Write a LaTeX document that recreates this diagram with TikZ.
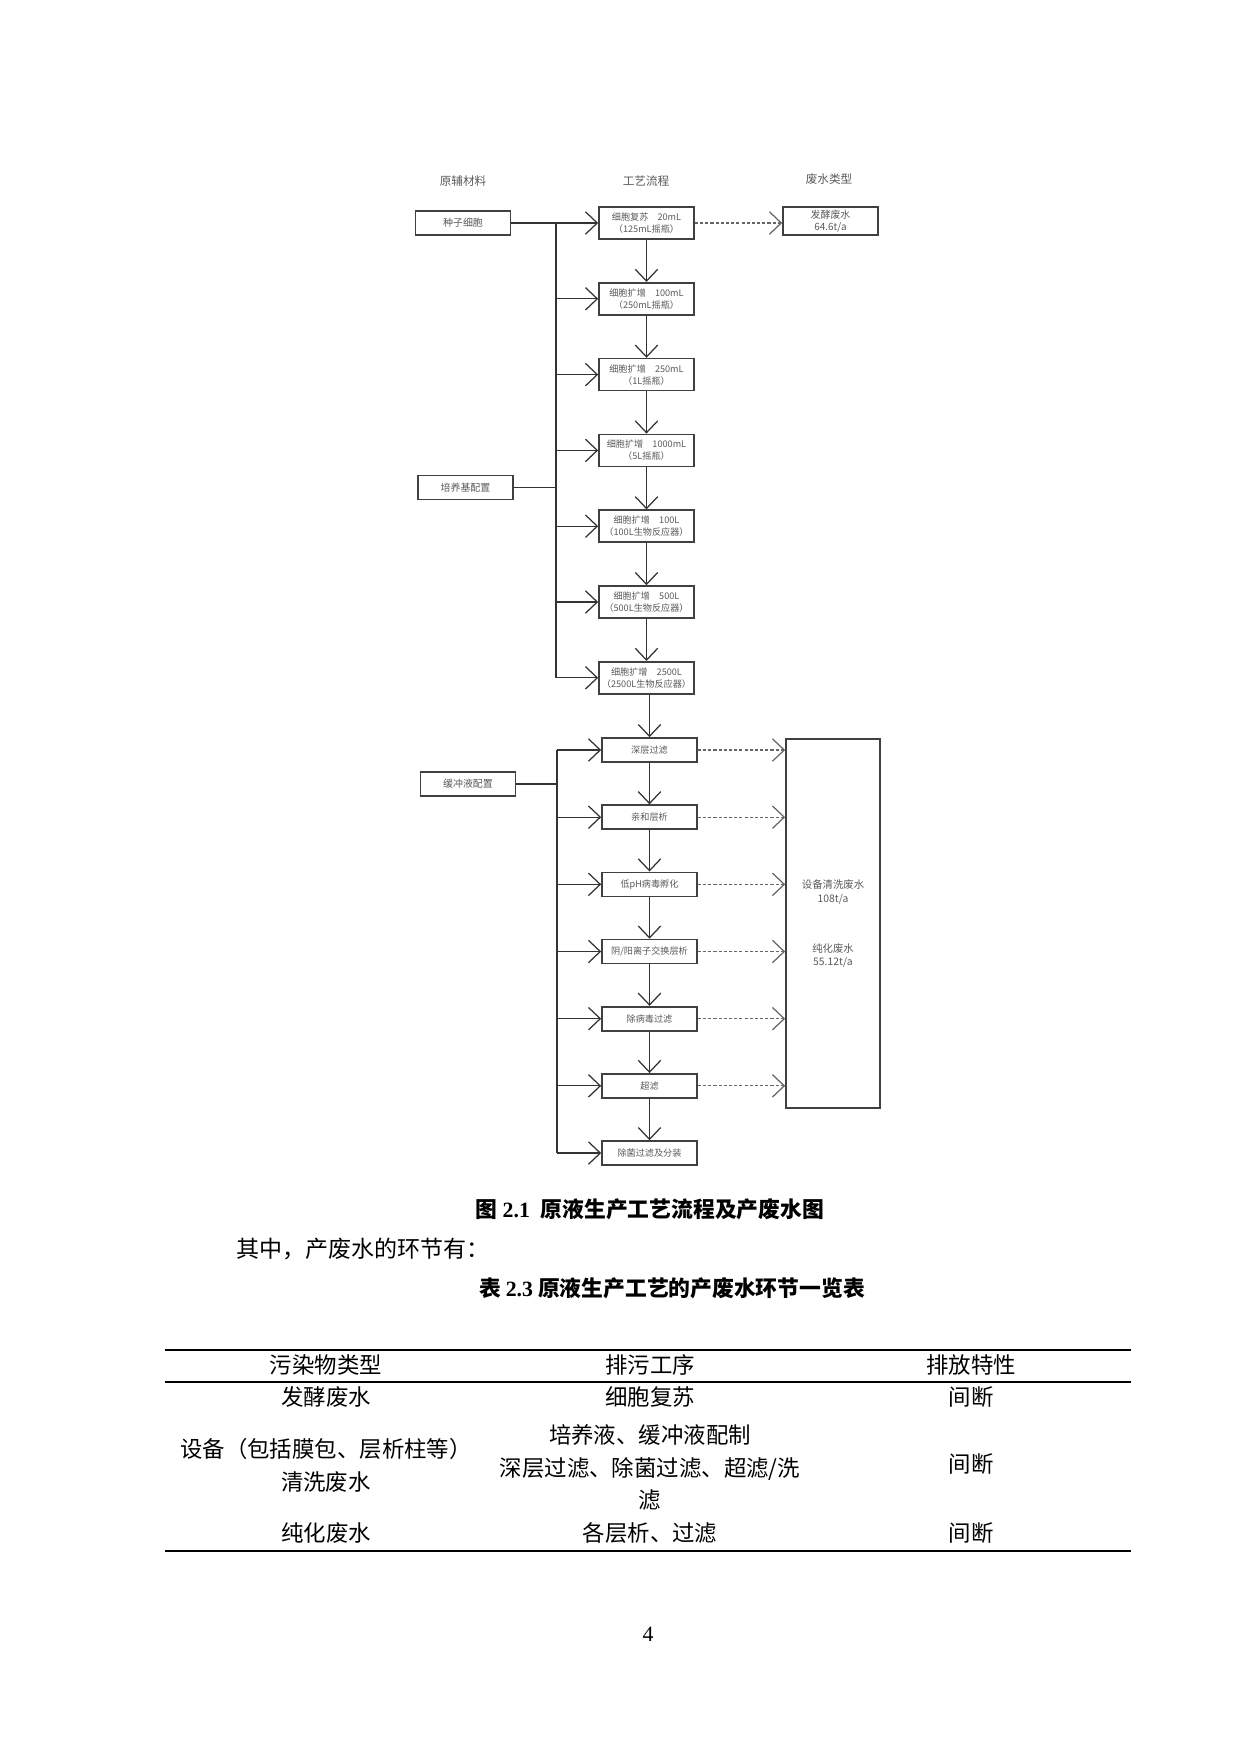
\documentclass[tikz,border=0pt]{standalone}
\usepackage{fontspec}
\setmainfont{Liberation Serif}
\newfontfamily\cjk{Noto Sans CJK SC}
\usetikzlibrary{arrows.meta}
\def\pxu{0.169333mm}
\tikzset{
  procbox/.style={draw=black!75,line width=0.8pt,text=black!65,
    font=\cjk\fontsize{4.4}{5.8}\selectfont,align=center,inner sep=0pt,
    minimum width=95*\pxu,minimum height=#1*\pxu},
  procbox/.default=32,
  sidebox/.style={procbox=24,font=\cjk\fontsize{4.8}{5.8}\selectfont},
  hdr/.style={text=black!65,font=\cjk\fontsize{5.6}{6.5}\selectfont},
  wastetxt/.style={text=black!65,align=center,font=\cjk\fontsize{5}{6.5}\selectfont},
  body/.style={font=\cjk\fontsize{10.8}{15.8}\selectfont,align=center},
  captxt/.style={font=\cjk\bfseries\fontsize{10.5}{12}\selectfont}
}

\begin{document}
\begin{tikzpicture}[x=\pxu,y=-\pxu,
  flow/.style={draw=black!80,line width=0.6pt},
  arr/.style={flow,-{Straight Barb[length=2mm,width=3.8mm]}},
  waste/.style={arr,draw=black!60,dash pattern=on 1.5pt off 1pt}]
\useasboundingbox (0,0) rectangle (1240,1754);

% column heads
\node[hdr] (hdrRaw) at (463,181) {原辅材料};
\node[hdr] (hdrProc) at (646,181) {工艺流程};
\node[hdr] (hdrWaste) at (829,179) {废水类型};

% raw materials
\node[sidebox] (seed) at (463,223) {种子细胞};
\node[sidebox] (medium) at (465.5,487.5) {培养基配置};
\node[sidebox] (buffer) at (468,784) {缓冲液配置};

% cell culture
\foreach \i/\nm/\vol/\vessel in {1/细胞复苏/20mL/125mL摇瓶,2/细胞扩增/100mL/250mL摇瓶,
    3/细胞扩增/250mL/1L摇瓶,4/细胞扩增/1000mL/5L摇瓶,5/细胞扩增/100L/100L生物反应器,
    6/细胞扩增/500L/500L生物反应器,7/细胞扩增/2500L/2500L生物反应器} {
  \node[procbox] (cult\i) at (646.5,{223+75.8*(\i-1)}) {\nm\quad\vol\\（\vessel）};
}

% purification
\foreach \i/\nm in {1/深层过滤,2/亲和层析,3/低pH病毒孵化,4/阴\slash 阳离子交换层析,
    5/除病毒过滤,6/超滤,7/除菌过滤及分装} {
  \node[procbox=24] (pur\i) at (649.5,{750+67.17*(\i-1)}) {\nm};
}

% waste water
\node[procbox=28,font=\cjk\fontsize{4.8}{6}\selectfont] (fermWaste) at (830.5,221) {发酵废水\\64.6t/a};
\node[procbox=369,minimum width=94*\pxu] (washBox) at (833,923.5) {};
\node[wastetxt] (washTxt) at (833,892) {设备清洗废水\\108t/a};
\node[wastetxt] (pureTxt) at (833,955.5) {纯化废水\\55.12t/a};

% feed lines
\coordinate (trunkA) at (556,223);
\coordinate (trunkAend) at (556,678);
\coordinate (trunkB) at (557,750);
\coordinate (trunkBend) at (557,1153);
\draw[flow] (trunkA) -- (trunkAend);
\draw[flow] (trunkB) -- (trunkBend);
\draw[arr] (seed.east) -- (cult1.west);
\foreach \i in {2,...,7} \draw[arr] (trunkA |- cult\i) -- (cult\i.west);
\draw[flow] (medium.east) -- (trunkA |- medium);
\foreach \i in {1,...,7} \draw[arr] (trunkB |- pur\i) -- (pur\i.west);
\draw[flow] (buffer.east) -- (trunkB |- buffer);

% process steps
\foreach \i [count=\j from 2] in {1,...,6} {
  \draw[arr] (cult\i.south) -- (cult\j.north);
  \draw[arr] (pur\i.south) -- (pur\j.north);
}
\draw[arr] (pur1.north |- cult7.south) -- (pur1.north);

% discharges
\draw[waste] (cult1.east) -- (cult1.east -| fermWaste.west);
\foreach \i in {1,...,6} \draw[waste] (pur\i.east) -- (pur\i.east -| washBox.west);

% caption and table
\node[captxt] (figCap) at (650,1209) {图 {\rmfamily 2.1}\enspace 原液生产工艺流程及产废水图};
\node[anchor=west,font=\cjk\fontsize{11.1}{13}\selectfont] (introTxt) at (229,1249) {其中，产废水的环节有：};
\node[captxt] (tabCap) at (672,1288) {表 {\rmfamily 2.3} 原液生产工艺的产废水环节一览表};

\draw[line width=1.2pt] (165,1350) -- (1131,1350);
\draw[line width=0.6pt] (165,1382) -- (1131,1382);
\draw[line width=1.2pt] (165,1551) -- (1131,1551);

\node[body] (hType) at (326,1365) {污染物类型};
\node[body] (hStep) at (650,1365) {排污工序};
\node[body] (hMode) at (971,1365) {排放特性};
\node[body] (r1Type) at (326,1397) {发酵废水};
\node[body] (r1Step) at (650,1397) {细胞复苏};
\node[body] (r1Mode) at (971,1397) {间断};
\node[body] (r2Type) at (326,1465.5) {设备（包括膜包、层析柱等）\\清洗废水};
\node[body] (r2Step) at (650,1467.5) {培养液、缓冲液配制\\深层过滤、除菌过滤、超滤/洗\\滤};
\node[body] (r2Mode) at (971,1464) {间断};
\node[body] (r3Type) at (326,1533) {纯化废水};
\node[body] (r3Step) at (650,1533) {各层析、过滤};
\node[body] (r3Mode) at (971,1533) {间断};

\node[font=\fontsize{10.5}{12}\selectfont] (pageNo) at (648,1634) {4};
\end{tikzpicture}
\end{document}
